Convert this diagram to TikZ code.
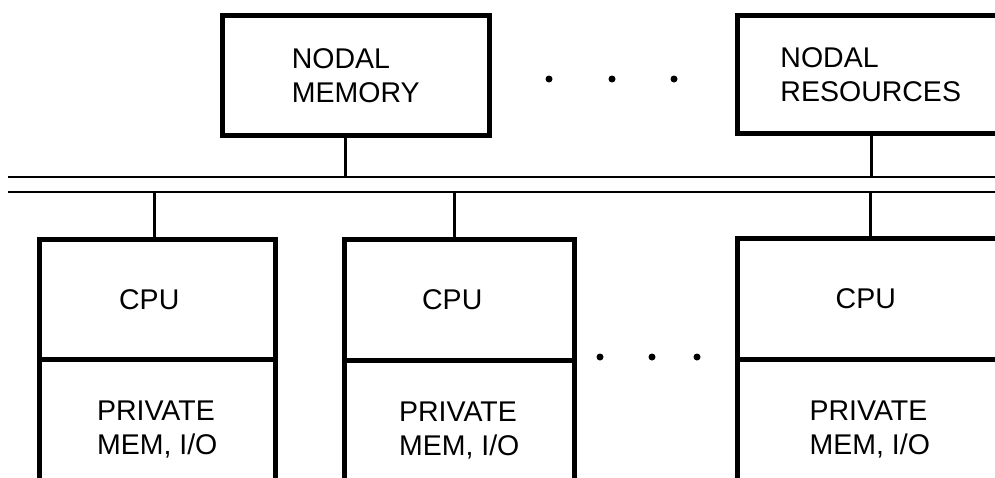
\documentclass[tikz,border=0pt]{standalone}
\usepackage{fontspec}
\setmainfont{Liberation Sans}
\begin{document}
\begin{tikzpicture}[x=1pt,y=-1pt,
  box/.style={draw=black,line width=4.5pt,rectangle,anchor=north west,inner sep=0pt,
     font=\fontsize{28.5}{34}\selectfont,align=left},
  wire/.style={draw=black,line width=2.6pt},
  busline/.style={draw=black,line width=2.6pt},
  dotnode/.style={circle,fill=black,inner sep=0pt,minimum size=7pt}]
\useasboundingbox (0,0) rectangle (995,477);
\clip (0,0) rectangle (995,477);
% top boxes
\node[box,minimum width=267pt,minimum height=120pt] (nm) at (220,13) {NODAL\\MEMORY};
\node[box,minimum width=267pt,minimum height=118pt] (nr) at (735,13) {NODAL\\RESOURCES};
% bus
\coordinate (busTL) at (8,177);
\coordinate (busTR) at (1000,177);
\coordinate (busBL) at (8,192);
\coordinate (busBR) at (1000,192);
\draw[busline] (busTL) -- (busTR);
\draw[busline] (busBL) -- (busBR);
% processor boxes
\node[box,minimum width=236pt,minimum height=120pt] (cpu1) at (37,237) {CPU\hspace*{16pt}};
\node[box,minimum width=236pt,minimum height=140pt] (pm1) at (37,357) {PRIVATE\\MEM, I/O};
\node[box,minimum width=230pt,minimum height=121pt] (cpu2) at (342,237) {CPU\hspace*{14pt}};
\node[box,minimum width=230pt,minimum height=140pt] (pm2) at (342,358) {PRIVATE\\MEM, I/O};
\node[box,minimum width=265pt,minimum height=121pt] (cpu3) at (735,236) {CPU\hspace*{8pt}};
\node[box,minimum width=265pt,minimum height=140pt] (pm3) at (735,357) {PRIVATE\\MEM, I/O};
% connectors
\draw[wire] ([xshift=-10pt]nm.south) -- ([xshift=-10pt]nm.south |- busTL);
\draw[wire] ([xshift=1pt]nr.south) -- ([xshift=1pt]nr.south |- busTL);
\draw[wire] ([xshift=-3pt]cpu1.north) -- ([xshift=-3pt]cpu1.north |- busBL);
\draw[wire] ([xshift=-5pt]cpu2.north) -- ([xshift=-5pt]cpu2.north |- busBL);
\draw[wire] ([xshift=1pt]cpu3.north) -- ([xshift=1pt]cpu3.north |- busBL);
% dots
\node[dotnode] (t1) at (549,79) {};
\node[dotnode] (t2) at (612,79) {};
\node[dotnode] (t3) at (674,79) {};
\node[dotnode] (b1) at (600,357) {};
\node[dotnode] (b2) at (652,357) {};
\node[dotnode] (b3) at (697,357) {};
\end{tikzpicture}
\end{document}
